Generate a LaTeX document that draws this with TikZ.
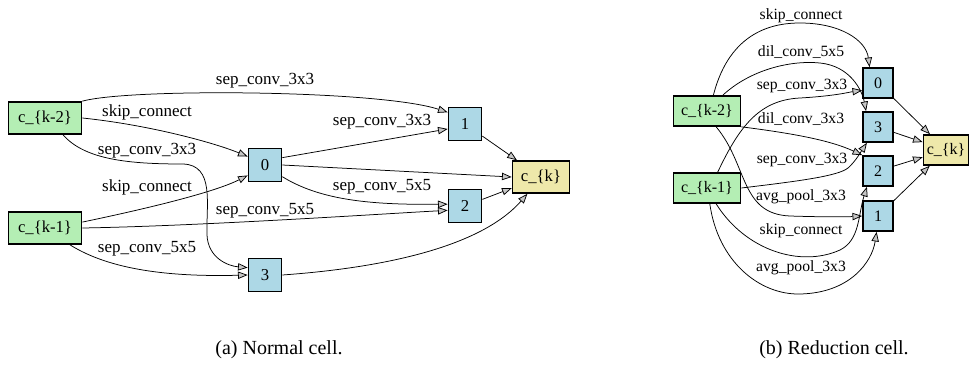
\documentclass[tikz,border=0pt]{standalone}
\usepackage{fontspec}
\setmainfont{Liberation Serif}
\usetikzlibrary{arrows.meta}
\definecolor{inputgreen}{RGB}{180,238,180}
\definecolor{opblue}{RGB}{173,216,230}
\definecolor{outyellow}{RGB}{238,232,170}
\tikzset{
	cellbox/.style={draw, line width=1pt, inner sep=0pt},
	inputnode/.style={cellbox, fill=inputgreen, minimum width=43.8pt, minimum height=19.2pt, font=\fontsize{10}{12}\selectfont},
	opnode/.style={cellbox, fill=opblue, minimum size=19.8pt, font=\fontsize{10}{12}\selectfont},
	outnode/.style={cellbox, fill=outyellow, minimum width=34.2pt, minimum height=19.2pt, font=\fontsize{10}{12}\selectfont},
	redinput/.style={inputnode, minimum width=40.2pt, minimum height=18pt, font=\fontsize{9.6}{11}\selectfont},
	redop/.style={opnode, minimum size=18pt, font=\fontsize{9.6}{11}\selectfont},
	redout/.style={outnode, minimum width=27pt, minimum height=18pt, font=\fontsize{9.6}{11}\selectfont},
	edge/.style={-{Triangle[length=5.8pt, width=4.4pt, fill=gray!45]}, line width=0.45pt},
	oplabel/.style={inner sep=0pt, font=\fontsize{10.2}{12}\selectfont},
	redlabel/.style={inner sep=0pt, font=\fontsize{9.4}{11}\selectfont},
	caption/.style={inner sep=0pt, font=\fontsize{12}{14}\selectfont}
}

\begin{document}
\begin{tikzpicture}[x=0.6pt, y=-0.6pt]
			%%%%% START %%%%%
			\useasboundingbox (0, 0) rectangle (969, 366);
			
			% normal cell
			\node[inputnode] (nk2) at (45, 118) {c\_\{k-2\}};
			\node[inputnode] (nk1) at (45, 228) {c\_\{k-1\}};
			\node[opnode] (n0) at (265, 165) {0};
			\node[opnode] (n3) at (265, 275) {3};
			\node[opnode] (n1) at (465, 124) {1};
			\node[opnode] (n2) at (465, 206) {2};
			\node[outnode] (nk) at (541, 177) {c\_\{k\}};
			
			\draw[edge] (nk2.north east) .. controls (130, 88) and (380, 90) .. (n1.146);
			\draw[edge] (nk2.east) .. controls (150, 125) and (215, 143) .. (n0.154);
			\draw[edge] (nk2.-43) .. controls (85, 160) and (130, 164) .. (183, 164) .. controls (215, 165) and (206, 205) .. (207, 235) .. controls (208, 258) and (228, 266) .. (n3.157);
			\draw[edge] (nk1.9) .. controls (150, 208) and (215, 192) .. (n0.211);
			\draw[edge] (nk1.east) .. controls (200, 226) and (380, 214) .. (n2.194);
			\draw[edge] (nk1.-34) .. controls (110, 270) and (170, 277) .. (n3.west);
			\draw[edge] (n0.23) -- (n1.196);
			\draw[edge] (n0.east) -- (nk.west);
			\draw[edge] (n0.-34) .. controls (320, 200) and (370, 205) .. (n2.174);
			\draw[edge] (n1) -- (nk);
			\draw[edge] (n2) -- (nk);
			\draw[edge] (n3.east) .. controls (380, 268) and (480, 248) .. (nk.231);
			
			\node[oplabel] (la) at (265, 81) {sep\_conv\_3x3};
			\node[oplabel] (lb) at (147, 112) {skip\_connect};
			\node[oplabel] (lc) at (147, 151) {sep\_conv\_3x3};
			\node[oplabel] (ld) at (147, 187) {skip\_connect};
			\node[oplabel] (le) at (265, 211) {sep\_conv\_5x5};
			\node[oplabel] (lf) at (147, 249) {sep\_conv\_5x5};
			\node[oplabel] (lg) at (382, 122) {sep\_conv\_3x3};
			\node[oplabel] (lh) at (382, 187) {sep\_conv\_5x5};
			
			\node[caption] (capa) at (279, 350) {(a) Normal cell.};
			
			% reduction cell
			\node[redinput] (rk2) at (707, 111) {c\_\{k-2\}};
			\node[redinput] (rk1) at (707, 188) {c\_\{k-1\}};
			\node[redop] (r0) at (878, 83) {0};
			\node[redop] (r3) at (878, 127) {3};
			\node[redop] (r2) at (878, 171) {2};
			\node[redop] (r1) at (878, 216) {1};
			\node[redout] (rk) at (946, 150) {c\_\{k\}};
			
			\draw[edge] (rk2.68) .. controls (730, 30) and (775, 23) .. (800, 23) .. controls (840, 23) and (866, 40) .. (r0.118);
			\draw[edge] (rk2.45) .. controls (750, 70) and (790, 60) .. (820, 63) .. controls (850, 66) and (862, 90) .. (r3.127);
			\draw[edge] (rk1.56) .. controls (740, 125) and (760, 100) .. (800, 98) .. controls (835, 96) and (850, 92) .. (r0.205);
			\draw[edge] (rk2.south east) .. controls (790, 133) and (830, 140) .. (r2.north west);
			\draw[edge] (rk1.east) .. controls (800, 181) and (838, 176) .. (848, 168) .. controls (856, 161) and (862, 150) .. (r3.235);
			\draw[edge] (rk2.-60) .. controls (748, 165) and (740, 214) .. (790, 216) .. controls (820, 217) and (845, 217) .. (r1.west);
			\draw[edge] (rk1.-60) .. controls (745, 250) and (800, 268) .. (840, 250) .. controls (860, 240) and (858, 215) .. (r2.235);
			\draw[edge] (rk1.-80) .. controls (718, 262) and (760, 295) .. (800, 294) .. controls (850, 293) and (872, 262) .. (r1.265);
			\draw[edge] (r0) -- (rk);
			\draw[edge] (r3) -- (rk);
			\draw[edge] (r2) -- (rk);
			\draw[edge] (r1) -- (rk);
			
			\node[redlabel] (ra) at (801, 16) {skip\_connect};
			\node[redlabel] (rb) at (801, 52) {dil\_conv\_5x5};
			\node[redlabel] (rc) at (802, 86) {sep\_conv\_3x3};
			\node[redlabel] (rd) at (801, 119) {dil\_conv\_3x3};
			\node[redlabel] (re) at (802, 160) {sep\_conv\_3x3};
			\node[redlabel] (rf) at (801, 197) {avg\_pool\_3x3};
			\node[redlabel] (rg) at (801, 231) {skip\_connect};
			\node[redlabel] (rh) at (801, 268) {avg\_pool\_3x3};
			
			\node[caption] (capb) at (834, 350) {(b) Reduction cell.};
			%%%%% END %%%%%
\end{tikzpicture}
\end{document}
